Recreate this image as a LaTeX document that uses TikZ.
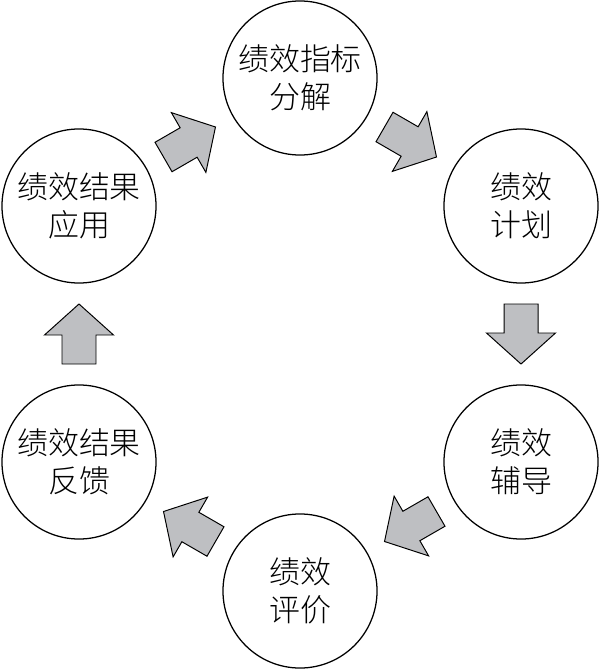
\documentclass[tikz,border=0pt]{standalone}
\usepackage{fontspec}
\setmainfont{Noto Sans CJK SC Light}
\usetikzlibrary{calc}
\definecolor{arrowgray}{RGB}{190,191,194}
\tikzset{
  phase/.style={draw, circle, line width=0.9pt, minimum size=3.85cm, inner sep=0pt,
    align=center, font=\fontsize{22}{27}\selectfont},
  flowarrow/.style={draw, line width=0.7pt, fill=arrowgray, line join=miter}
}
\begin{document}
\begin{tikzpicture}[x=0.025cm,y=-0.025cm]
  \useasboundingbox (0,0) rectangle (600,669);
  % the six phases of the cycle
  \node[phase] (decomp) at (300,78) {绩效指标\\分解};
  \node[phase] (plan) at (521,206) {绩效\\计划};
  \node[phase] (coach) at (521,462) {绩效\\辅导};
  \node[phase] (assess) at (300,591) {绩效\\评价};
  \node[phase] (feedback) at (79,462) {绩效结果\\反馈};
  \node[phase] (apply) at (79,206) {绩效结果\\应用};
  % block arrows between neighbours
  \foreach \a/\b/\ang in {apply/decomp/30,decomp/plan/-30,plan/coach/-90,coach/assess/-150,assess/feedback/150,feedback/apply/90} {
    \begin{scope}[shift={($(\a)!0.5!(\b)$)}, rotate=\ang]
      \draw[flowarrow] (-30,17) -- (-1,17) -- (-1,34.5) -- (30,0) -- (-1,-34.5) -- (-1,-17) -- (-30,-17) -- cycle;
    \end{scope}
  }
\end{tikzpicture}
\end{document}
